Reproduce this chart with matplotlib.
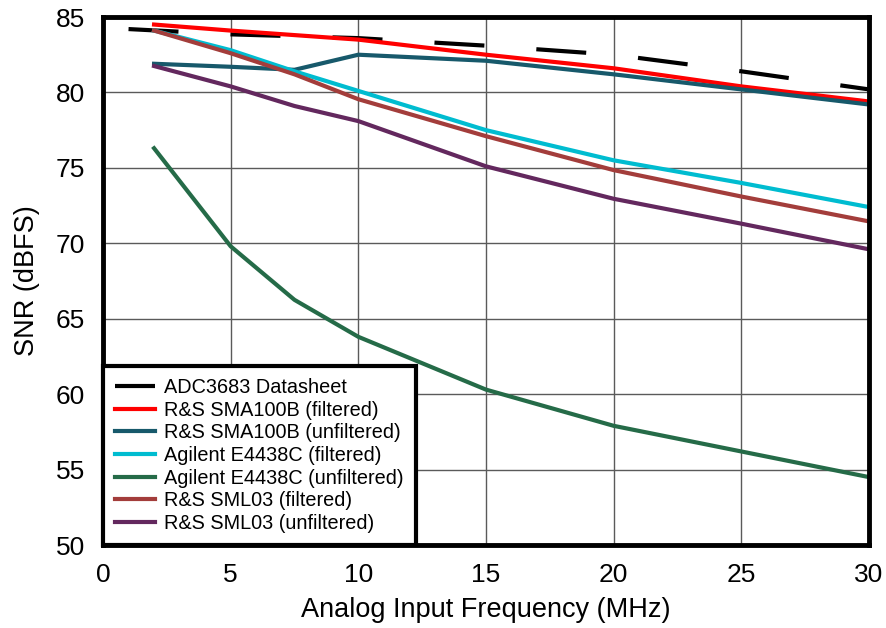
import matplotlib
matplotlib.use('Agg')
import matplotlib.pyplot as plt

plt.rcParams['font.family'] = ['Liberation Sans', 'DejaVu Sans']

# SNR (dBFS) vs analog input frequency (MHz)
freq_datasheet = [1, 5, 10, 15, 20, 25, 30]
snr_datasheet = [84.2, 83.85, 83.6, 83.1, 82.5, 81.4, 80.2]

freq = [2, 5, 7.5, 10, 15, 20, 25, 30]
snr_sma100b_filt = [84.5, 84.1, 83.8, 83.5, 82.5, 81.6, 80.4, 79.4]
snr_sma100b_unfilt = [81.9, 81.7, 81.5, 82.5, 82.1, 81.2, 80.2, 79.2]
snr_e4438c_filt = [84.1, 82.8, 81.4, 80.1, 77.5, 75.5, 74.0, 72.4]
snr_e4438c_unfilt = [76.3, 69.8, 66.25, 63.8, 60.3, 57.9, 56.2, 54.5]
snr_sml03_filt = [84.1, 82.6, 81.2, 79.55, 77.1, 74.85, 73.1, 71.45]
snr_sml03_unfilt = [81.75, 80.4, 79.1, 78.1, 75.1, 72.95, 71.3, 69.6]

labels = ['ADC3683 Datasheet',
          'R&S SMA100B (filtered)',
          'R&S SMA100B (unfiltered)',
          'Agilent E4438C (filtered)',
          'Agilent E4438C (unfiltered)',
          'R&S SML03 (filtered)',
          'R&S SML03 (unfiltered)']

colors = ['black', '#ff0000', '#17596b', '#00bcd0', '#256b48', '#a33d3b', '#63285e']

fig = plt.figure(figsize=(8.86, 6.28), dpi=100)
ax = fig.add_axes([103 / 886, 83 / 628, 766 / 886, 528 / 628])

lw = 3.0
ax.plot(freq_datasheet, snr_datasheet, color=colors[0], lw=lw,
        dashes=(12, 12.5), label=labels[0], dash_capstyle='butt')
series = [snr_sma100b_filt, snr_sma100b_unfilt, snr_e4438c_filt,
          snr_e4438c_unfilt, snr_sml03_filt, snr_sml03_unfilt]
for vals, col, lab in zip(series, colors[1:], labels[1:]):
    ax.plot(freq, vals, color=col, lw=lw, label=lab, solid_joinstyle='round')

ax.set_xlim(0, 30)
ax.set_ylim(50, 85)
ax.set_xticks(range(0, 31, 5))
ax.set_yticks(range(50, 86, 5))
ax.grid(True, color='#5a5a5a', lw=1.0)
ax.set_axisbelow(True)
ax.tick_params(length=0, labelsize=19, pad=13)
for s in ax.spines.values():
    s.set_linewidth(3.5)
    s.set_color('black')

ax.set_xlabel('Analog Input Frequency (MHz)', fontsize=19.5, labelpad=7)
ax.set_ylabel('SNR (dBFS)', fontsize=19.5, labelpad=11)

leg = ax.legend(loc='lower left', bbox_to_anchor=(0, 0), borderaxespad=0,
                fontsize=14.3, handlelength=2.0, handletextpad=0.45,
                labelspacing=0.18, borderpad=0.62, fancybox=False,
                framealpha=1, edgecolor='black')
leg.get_frame().set_linewidth(3.0)

fig.savefig('out.png', dpi=100)
